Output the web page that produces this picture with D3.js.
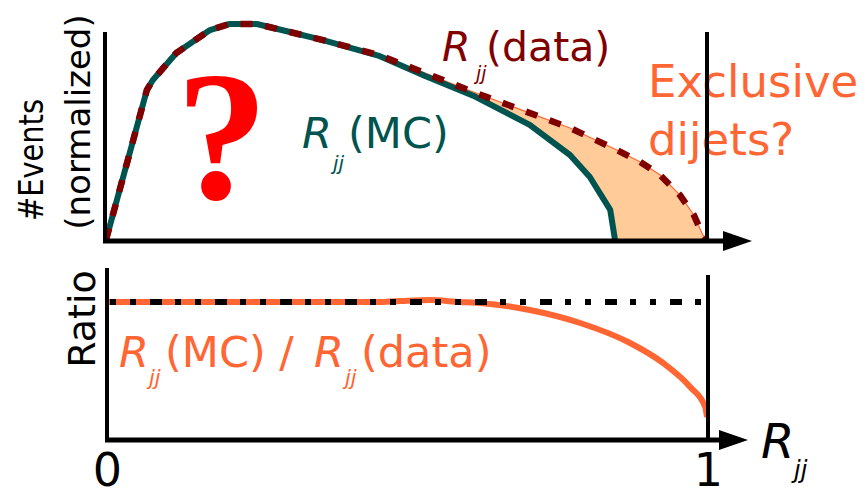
<!DOCTYPE html>
<html>
<head>
<meta charset="utf-8">
<script src="https://cdn.jsdelivr.net/npm/d3@7"></script>
<style>
  html, body { margin: 0; padding: 0; background: #fff; }
  svg { display: block; }
  text { font-family: "DejaVu Sans", sans-serif; }
</style>
</head>
<body>
<svg id="chart" width="867" height="497"></svg>
<script>
// R_jj distributions (normalized event counts), simulation vs. measurement
const mcX   = [0, 0.068, 0.078, 0.117, 0.173, 0.206, 0.251, 0.306, 0.361, 0.453, 0.531, 0.611, 0.705, 0.772, 0.805, 0.839, 0.847];
const mcY   = [0, 0.688, 0.734, 0.858, 0.963, 0.991, 0.991, 0.954, 0.917, 0.846, 0.752, 0.662, 0.528, 0.39, 0.289, 0.138, 0];
const dataX = [0, 0.068, 0.078, 0.117, 0.173, 0.206, 0.251, 0.306, 0.361, 0.453, 0.531, 0.611, 0.692, 0.772, 0.850, 0.889, 0.922, 0.955, 0.978, 0.993, 1.0];
const dataY = [0, 0.688, 0.734, 0.858, 0.963, 0.991, 0.991, 0.954, 0.917, 0.849, 0.766, 0.679, 0.596, 0.514, 0.413, 0.358, 0.298, 0.206, 0.115, 0.023, 0];

// Ratio MC / data
const ratioX = [0, 0.45, 0.489, 0.539, 0.589, 0.622, 0.705, 0.789, 0.872, 0.927, 0.972, 0.997, 1.0];
const ratioY = [1, 1, 1.007, 1.014, 1.0, 0.993, 0.942, 0.848, 0.703, 0.558, 0.384, 0.239, 0.167];

// Tick labels on the R_jj axis
const xTicks = [0, 1];
const xTickLabels = ["0", "1"];

// Start of the region where the two distributions separate
const splitX = 0.453;

const svg = d3.select("#chart");

const x = d3.scaleLinear().domain([0, 1]).range([106, 707]);
const yTop = d3.scaleLinear().domain([0, 1]).range([240, 22]);
const yRatio = d3.scaleLinear().domain([0, 1]).range([440, 302]);

const mc = mcX.map((v, i) => ({ x: v, y: mcY[i] }));
const data = dataX.map((v, i) => ({ x: v, y: dataY[i] }));
const ratio = ratioX.map((v, i) => ({ x: v, y: ratioY[i] }));

const lineTop = d3.line().x(d => x(d.x)).y(d => yTop(d.y));
const lineRatio = d3.line().x(d => x(d.x)).y(d => yRatio(d.y)).curve(d3.curveMonotoneX);

const C_MC = "#005450";
const C_DATA = "#800000";
const C_ORANGE = "#ff6633";
const C_FILL = "#ffcc99";

// ---------- upper panel ----------
// shaded excess of data over MC
const excess = data.filter(d => d.x >= splitX)
  .concat(mc.filter(d => d.x >= splitX).reverse());
svg.append("path")
  .attr("d", lineTop(excess) + "Z")
  .attr("fill", C_FILL)
  .attr("stroke", C_ORANGE)
  .attr("stroke-width", 1.2);

// big question mark
svg.append("text")
  .attr("x", 222).attr("y", 198)
  .attr("text-anchor", "middle")
  .style("font-family", "'Liberation Serif', serif")
  .attr("font-weight", "bold")
  .attr("font-size", 184)
  .attr("fill", "#ff0000")
  .text("?");

// curves
svg.append("path")
  .attr("d", lineTop(mc))
  .attr("fill", "none")
  .attr("stroke", C_MC)
  .attr("stroke-width", 6)
  .attr("stroke-linejoin", "round");

svg.append("path")
  .attr("d", lineTop(data))
  .attr("fill", "none")
  .attr("stroke", C_DATA)
  .attr("stroke-width", 6.5)
  .attr("stroke-dasharray", "12,13");

// curve labels
function rLabel(xr, xs, xt, yBase, ySub, size, subSize, color, tail) {
  const g = svg.append("g").attr("fill", color);
  g.append("text").attr("x", xr).attr("y", yBase)
    .attr("font-size", size).attr("font-style", "italic").text("R");
  g.append("text").attr("x", xs).attr("y", ySub)
    .attr("font-size", subSize).attr("font-style", "italic").text("jj");
  g.append("text").attr("x", xt).attr("y", yBase)
    .attr("font-size", size).text(tail);
  return g;
}
rLabel(302, 333, 348, 148, 170, 43, 20, C_MC, "(MC)");
rLabel(442, 476, 486, 61, 80, 41, 19, C_DATA, "(data)");

svg.append("text").attr("x", 648).attr("y", 97)
  .attr("font-size", 45).attr("fill", C_ORANGE).text("Exclusive");
svg.append("text").attr("x", 648).attr("y", 155)
  .attr("font-size", 45).attr("fill", C_ORANGE).text("dijets?");

// upper axes
svg.append("line").attr("x1", 105).attr("x2", 105).attr("y1", 32).attr("y2", 243)
  .attr("stroke", "#000").attr("stroke-width", 4);
svg.append("line").attr("x1", x(1)).attr("x2", x(1)).attr("y1", 32).attr("y2", 241)
  .attr("stroke", "#000").attr("stroke-width", 4);
svg.append("line").attr("x1", 103).attr("x2", 726).attr("y1", 241).attr("y2", 241)
  .attr("stroke", "#000").attr("stroke-width", 5);
svg.append("path").attr("d", "M723,231 L752,241 L723,251 Z").attr("fill", "#000");

// y labels of upper panel
svg.append("text")
  .attr("transform", "translate(43,160) rotate(-90)")
  .attr("text-anchor", "middle")
  .attr("font-size", 34)
  .attr("textLength", 122)
  .attr("lengthAdjust", "spacingAndGlyphs")
  .text("#Events");
svg.append("text")
  .attr("transform", "translate(90,122) rotate(-90)")
  .attr("text-anchor", "middle")
  .attr("font-size", 34)
  .text("(normalized)");

// ---------- lower panel ----------
svg.append("path")
  .attr("d", lineRatio(ratio))
  .attr("fill", "none")
  .attr("stroke", C_ORANGE)
  .attr("stroke-width", 6);

svg.append("line")
  .attr("x1", 110).attr("x2", 704)
  .attr("y1", yRatio(1)).attr("y2", yRatio(1))
  .attr("stroke", "#000")
  .attr("stroke-width", 6)
  .attr("stroke-dasharray", "6,14,6,14,12,13");

rLabel(119, 149, 165, 367, 385, 43, 21, C_ORANGE, "(MC) /");
rLabel(314, 345, 361, 367, 385, 43, 21, C_ORANGE, "(data)");

svg.append("text")
  .attr("transform", "translate(95,319) rotate(-90)")
  .attr("text-anchor", "middle")
  .attr("font-size", 38)
  .text("Ratio");

svg.append("line").attr("x1", 107).attr("x2", 107).attr("y1", 268).attr("y2", 442)
  .attr("stroke", "#000").attr("stroke-width", 4);
svg.append("line").attr("x1", x(1) + 1).attr("x2", x(1) + 1).attr("y1", 275).attr("y2", 440)
  .attr("stroke", "#000").attr("stroke-width", 4);
svg.append("line").attr("x1", 105).attr("x2", 722).attr("y1", 440).attr("y2", 440)
  .attr("stroke", "#000").attr("stroke-width", 5);
svg.append("path").attr("d", "M719,430 L748,440 L719,450 Z").attr("fill", "#000");

// tick labels through a bottom axis
const xAxis = d3.axisBottom(x)
  .tickValues(xTicks)
  .tickFormat((d, i) => xTickLabels[i])
  .tickSize(0)
  .tickPadding(0);
const gAxis = svg.append("g").attr("transform", "translate(1,0)").call(xAxis);
gAxis.select(".domain").remove();
gAxis.selectAll("text")
  .attr("dy", null)
  .attr("y", 486)
  .attr("font-size", 46)
  .attr("fill", "#000")
  .style("font-family", "'DejaVu Sans', sans-serif");

// axis title
svg.append("text").attr("x", 761).attr("y", 458)
  .attr("font-size", 48).attr("font-style", "italic").text("R");
svg.append("text").attr("x", 794).attr("y", 478)
  .attr("font-size", 24).attr("font-style", "italic").text("jj");
</script>
</body>
</html>
